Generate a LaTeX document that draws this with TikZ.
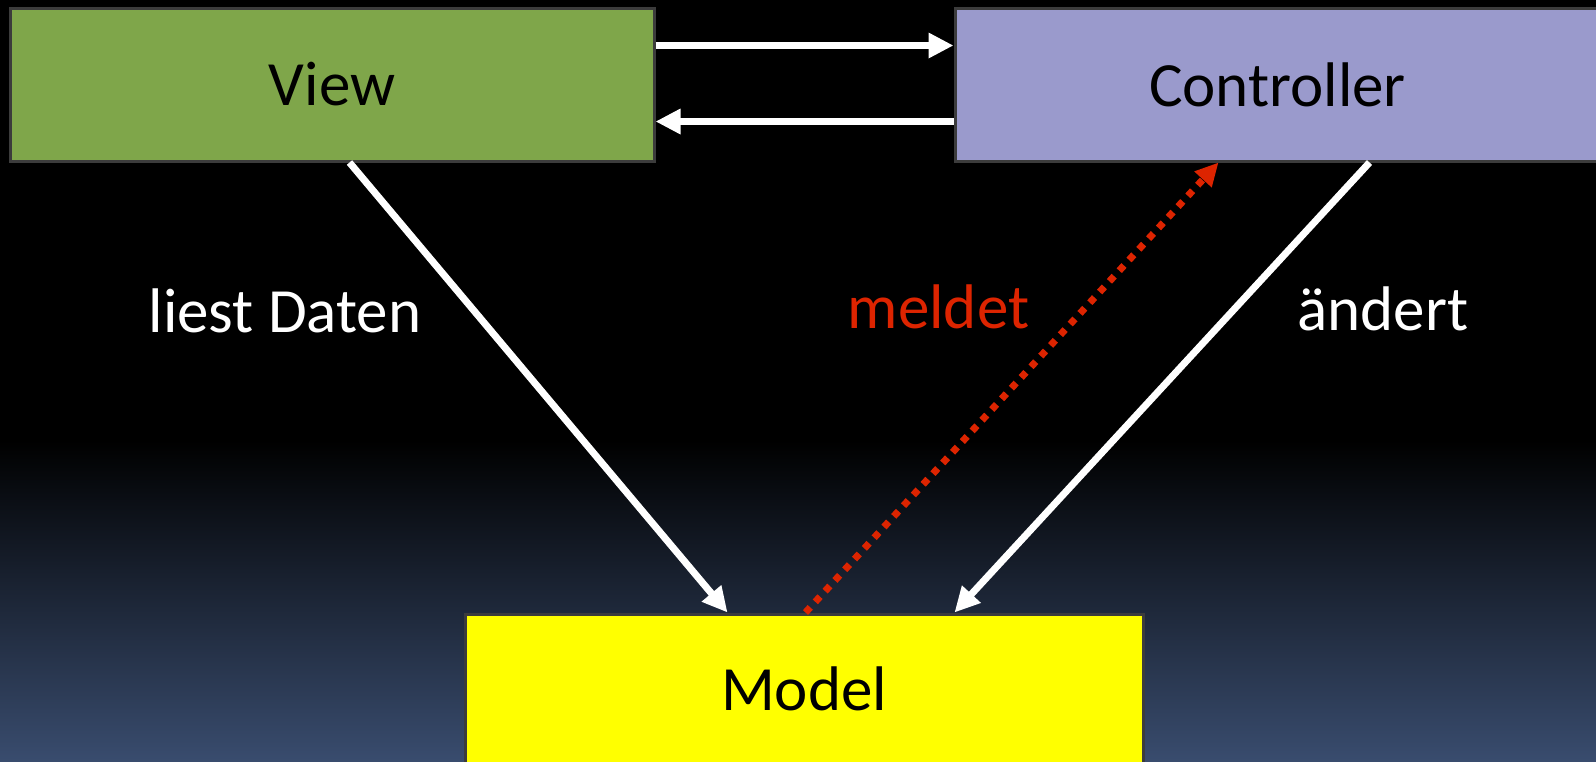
\documentclass[tikz,border=0pt]{standalone}
\usepackage{fontspec}
\setmainfont{Carlito}
\usetikzlibrary{arrows.meta,calc}
\definecolor{bgblue}{RGB}{57,76,110}
\definecolor{viewgreen}{RGB}{127,166,74}
\definecolor{ctrlblue}{RGB}{154,154,204}
\definecolor{boxborder}{RGB}{60,60,60}
\definecolor{msgred}{RGB}{221,36,0}
\definecolor{modelyellow}{RGB}{255,255,0}
\begin{document}
\begin{tikzpicture}[x=1pt,y=-1pt,
  box/.style={draw=boxborder,line width=3pt,inner sep=0pt,
    font=\fontsize{63}{70}\selectfont,text=black},
  lbl/.style={anchor=base,inner sep=0pt,font=\fontsize{63}{70}\selectfont},
  warrow/.style={draw=white,line width=7pt,-{Triangle[length=25pt,width=24pt]}},
  rarrow/.style={draw=msgred,line width=7pt,dash pattern=on 7pt off 7.5pt,
    -{Triangle[length=23pt,width=22pt]}}
]
\useasboundingbox (0,0) rectangle (1596,761);
\clip (0,0) rectangle (1596,761);
\fill[black] (0,0) rectangle (1596,761);
\shade[top color=black,bottom color=bgblue] (0,440) rectangle (1596,761);

\node[box,fill=viewgreen,minimum width=644pt,minimum height=153pt] (view) at (332,84.5) {View};
\node[box,fill=ctrlblue,minimum width=645pt,minimum height=153pt] (ctrl) at (1277.5,84.5) {Controller};
\node[box,fill=modelyellow,minimum width=678pt,minimum height=150pt] (model) at (804,689) {Model};

\draw[warrow] ([yshift=-39pt]view.north east) -- ([yshift=-39pt]ctrl.north west);
\draw[warrow] ([yshift=-115pt]ctrl.north west) -- ([yshift=-115pt]view.north east);
\draw[warrow] ([xshift=341pt]view.south west) -- ([xshift=264pt]model.north west);
\draw[warrow] ([xshift=416pt]ctrl.south west) -- ([xshift=491pt]model.north west);
\draw[rarrow] ([xshift=342pt]model.north west) -- ([xshift=265pt]ctrl.south west);

\node[lbl,text=white] (l1) at (285,332) {liest Daten};
\node[lbl,text=msgred] (l2) at (938.5,328) {meldet};
\node[lbl,text=white] (l3) at (1383,330) {ändert};
\end{tikzpicture}
\end{document}
